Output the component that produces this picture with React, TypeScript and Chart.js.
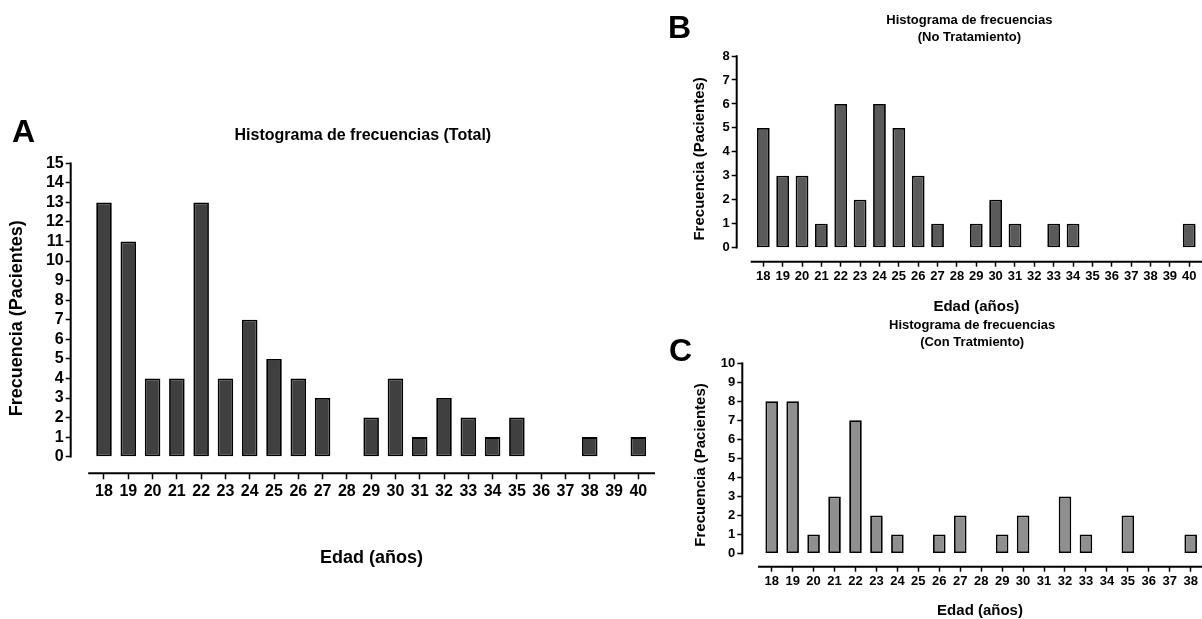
import React, { useEffect, useRef } from 'react';
import { Chart, registerables } from 'chart.js';

Chart.register(...registerables);

// ---------------- DATA ----------------
const ages = [18, 19, 20, 21, 22, 23, 24, 25, 26, 27, 28, 29, 30, 31, 32, 33, 34, 35, 36, 37, 38, 39, 40];
const agesC = [18, 19, 20, 21, 22, 23, 24, 25, 26, 27, 28, 29, 30, 31, 32, 33, 34, 35, 36, 37, 38];
const totalCounts = [13, 11, 4, 4, 13, 4, 7, 5, 4, 3, 0, 2, 4, 1, 3, 2, 1, 2, 0, 0, 1, 0, 1];
const noTratCounts = [5, 3, 3, 1, 6, 2, 6, 5, 3, 1, 0, 1, 2, 1, 0, 1, 1, 0, 0, 0, 0, 0, 1];
const conTratCounts = [8, 8, 1, 3, 7, 2, 1, 0, 1, 2, 0, 1, 2, 0, 3, 1, 0, 2, 0, 0, 1];
const yTicksA = [0, 1, 2, 3, 4, 5, 6, 7, 8, 9, 10, 11, 12, 13, 14, 15];
const yTicksB = [0, 1, 2, 3, 4, 5, 6, 7, 8];
const yTicksC = [0, 1, 2, 3, 4, 5, 6, 7, 8, 9, 10];

const titleA = 'Histograma de frecuencias (Total)';
const titleB = ['Histograma de frecuencias', '(No Tratamiento)'];
const titleC = ['Histograma de frecuencias', '(Con Tratmiento)'];
const yTitle = 'Frecuencia (Pacientes)';
const xTitle = 'Edad (años)';

const FONT = "'Liberation Sans', Arial, Helvetica, sans-serif";

// ---------------- PLUGIN: offset axis lines + x title ----------------
const axisDecor = {
  id: 'axisDecor',
  afterDraw(chart: any, _args: any, opts: any) {
    const { ctx, chartArea, scales } = chart;
    const xs = scales.x;
    const ys = scales.y;
    const lw = opts.lineWidth;
    ctx.save();
    ctx.strokeStyle = '#000';
    ctx.lineWidth = lw;
    ctx.lineCap = 'butt';
    // y axis line (0 .. max)
    const yx = chartArea.left;
    ctx.beginPath();
    ctx.moveTo(yx, ys.getPixelForValue(0) + 0.75);
    ctx.lineTo(yx, ys.getPixelForValue(opts.yMax) - 0.75);
    ctx.stroke();
    // x axis line
    const x0 = xs.getPixelForValue(opts.xStart);
    const x1 = chartArea.right;
    ctx.beginPath();
    ctx.moveTo(x0, chartArea.bottom);
    ctx.lineTo(x1, chartArea.bottom);
    ctx.stroke();
    // x title, centred on the axis line
    ctx.fillStyle = '#000';
    ctx.font = `bold ${opts.titleSize}px ${FONT}`;
    ctx.textAlign = 'center';
    ctx.textBaseline = 'middle';
    ctx.fillText(opts.title, (x0 + x1) / 2, chartArea.bottom + opts.titleOffset);
    ctx.restore();
  },
};

type Spec = {
  labels: number[];
  counts: number[];
  yTicks: number[];
  title: string | string[];
  color: string;
  barPct: number;
  canvas: { w: number; h: number };
  yWidth: number;
  yMin: number;
  yMax: number;
  xMin: number;
  xMax: number;
  xHeight: number;
  padRight: number;
  tickSize: number;
  xTickLen: number;
  xTickPad: number;
  titleSize: number;
  titleLH: number;
  titlePad: { top: number; bottom: number };
  yTitleSize: number;
  yTitlePad: number;
  xTitleSize: number;
  xTitleOffset: number;
};

function buildConfig(s: Spec): any {
  const data = s.labels.map((a, i) => ({ x: a, y: s.counts[i] > 0 ? s.counts[i] : null }));
  return {
    type: 'bar',
    data: {
      datasets: [
        {
          data,
          backgroundColor: s.color,
          borderColor: '#000',
          borderWidth: 1.8,
          borderSkipped: false,
          barPercentage: s.barPct,
          categoryPercentage: 1,
        },
      ],
    },
    plugins: [axisDecor],
    options: {
      responsive: false,
      animation: false,
      devicePixelRatio: 1,
      events: [],
      layout: { padding: { left: 0, right: s.padRight, top: 0, bottom: 0 } },
      plugins: {
        legend: { display: false },
        tooltip: { enabled: false },
        title: {
          display: true,
          text: s.title,
          fullSize: false,
          color: '#000',
          font: { family: FONT, size: s.titleSize, weight: 'bold', lineHeight: s.titleLH },
          padding: s.titlePad,
        },
        axisDecor: {
          lineWidth: 2,
          yMax: s.yMax,
          xStart: s.labels[0] - 0.65,
          title: xTitle,
          titleSize: s.xTitleSize,
          titleOffset: s.xTitleOffset,
        },
      },
      scales: {
        x: {
          type: 'linear',
          min: s.xMin,
          max: s.xMax,
          offset: false,
          afterFit: (sc: any) => {
            sc.height = s.xHeight;
          },
          afterBuildTicks: (sc: any) => {
            sc.ticks = s.labels.map((v) => ({ value: v }));
          },
          grid: {
            display: true,
            offset: false,
            drawOnChartArea: false,
            drawTicks: true,
            tickLength: s.xTickLen,
            tickWidth: 1.5,
            tickColor: '#000',
            color: '#000',
          },
          border: { display: false },
          ticks: {
            autoSkip: false,
            maxRotation: 0,
            minRotation: 0,
            padding: s.xTickPad,
            color: '#000',
            font: { family: FONT, size: s.tickSize, weight: 'bold' },
            callback: (v: any) => String(v),
          },
        },
        y: {
          type: 'linear',
          min: s.yMin,
          max: s.yMax,
          afterFit: (sc: any) => {
            sc.width = s.yWidth;
          },
          afterBuildTicks: (sc: any) => {
            sc.ticks = s.yTicks.map((v) => ({ value: v }));
          },
          grid: {
            display: true,
            drawOnChartArea: false,
            drawTicks: true,
            tickLength: 5,
            tickWidth: 1.5,
            tickColor: '#000',
            color: '#000',
          },
          border: { display: false },
          ticks: {
            autoSkip: false,
            padding: 2,
            color: '#000',
            font: { family: FONT, size: s.tickSize, weight: 'bold' },
            callback: (v: any) => String(v),
          },
          title: {
            display: true,
            text: yTitle,
            color: '#000',
            font: { family: FONT, size: s.yTitleSize, weight: 'bold', lineHeight: 1.2 },
            padding: { top: s.yTitlePad, bottom: 0 },
          },
        },
      },
    },
  };
}

const specA: Spec = {
  labels: ages,
  counts: totalCounts,
  yTicks: yTicksA,
  title: titleA,
  color: '#404040',
  barPct: 0.64,
  canvas: { w: 660, h: 500 },
  yWidth: 70.7,
  yMin: -0.85,
  yMax: 15,
  xMin: 16.629,
  xMax: 40.687,
  xHeight: 126.7,
  padRight: 5,
  tickSize: 16,
  xTickLen: 6,
  xTickPad: 3,
  titleSize: 16,
  titleLH: 1.2,
  titlePad: { top: 26, bottom: 18.1 },
  yTitleSize: 18,
  yTitlePad: 5.9,
  xTitleSize: 18,
  xTitleOffset: 84.7,
};

const specB: Spec = {
  labels: ages,
  counts: noTratCounts,
  yTicks: yTicksB,
  title: titleB,
  color: '#5a5a5a',
  barPct: 0.66,
  canvas: { w: 542, h: 316 },
  yWidth: 76.7,
  yMin: -0.584,
  yMax: 8,
  xMin: 16.626,
  xMax: 40.66,
  xHeight: 54.3,
  padRight: 0,
  tickSize: 13,
  xTickLen: 5,
  xTickPad: 2,
  titleSize: 13,
  titleLH: 16.5 / 13,
  titlePad: { top: 12.25, bottom: 10.75 },
  yTitleSize: 15,
  yTitlePad: 30.6,
  xTitleSize: 15,
  xTitleOffset: 44.8,
};

const specC: Spec = {
  labels: agesC,
  counts: conTratCounts,
  yTicks: yTicksC,
  title: titleC,
  color: '#8f8f8f',
  barPct: 0.6,
  canvas: { w: 542, h: 303 },
  yWidth: 82.3,
  yMin: -0.69,
  yMax: 10,
  xMin: 16.597,
  xMax: 38.54,
  xHeight: 52.3,
  padRight: 0,
  tickSize: 13,
  xTickLen: 5,
  xTickPad: 2,
  titleSize: 13,
  titleLH: 16.6 / 13,
  titlePad: { top: 1.4, bottom: 12.6 },
  yTitleSize: 15,
  yTitlePad: 31.5,
  xTitleSize: 15,
  xTitleOffset: 44.3,
};

function Histogram({ spec, left, top }: { spec: Spec; left: number; top: number }) {
  const ref = useRef<HTMLCanvasElement | null>(null);
  useEffect(() => {
    if (!ref.current) return;
    const chart = new Chart(ref.current, buildConfig(spec));
    return () => chart.destroy();
  }, [spec]);
  return (
    <canvas
      ref={ref}
      width={spec.canvas.w}
      height={spec.canvas.h}
      style={{ position: 'absolute', left, top, width: spec.canvas.w, height: spec.canvas.h }}
    />
  );
}

function Letter({ ch, left, top }: { ch: string; left: number; top: number }) {
  return (
    <div
      style={{
        position: 'absolute',
        left,
        top,
        fontFamily: FONT,
        fontWeight: 'bold',
        fontSize: 32,
        lineHeight: '32px',
        color: '#000',
      }}
    >
      {ch}
    </div>
  );
}

export default function App() {
  return (
    <div
      style={{
        position: 'absolute',
        left: 0,
        top: 0,
        width: 1202,
        height: 619,
        background: '#fff',
        overflow: 'hidden',
      }}
    >
      <Histogram spec={specA} left={0} top={100} />
      <Histogram spec={specB} left={660} top={0} />
      <Histogram spec={specC} left={660} top={316} />
      <Letter ch="A" left={12} top={115} />
      <Letter ch="B" left={668} top={11} />
      <Letter ch="C" left={669} top={334} />
    </div>
  );
}
